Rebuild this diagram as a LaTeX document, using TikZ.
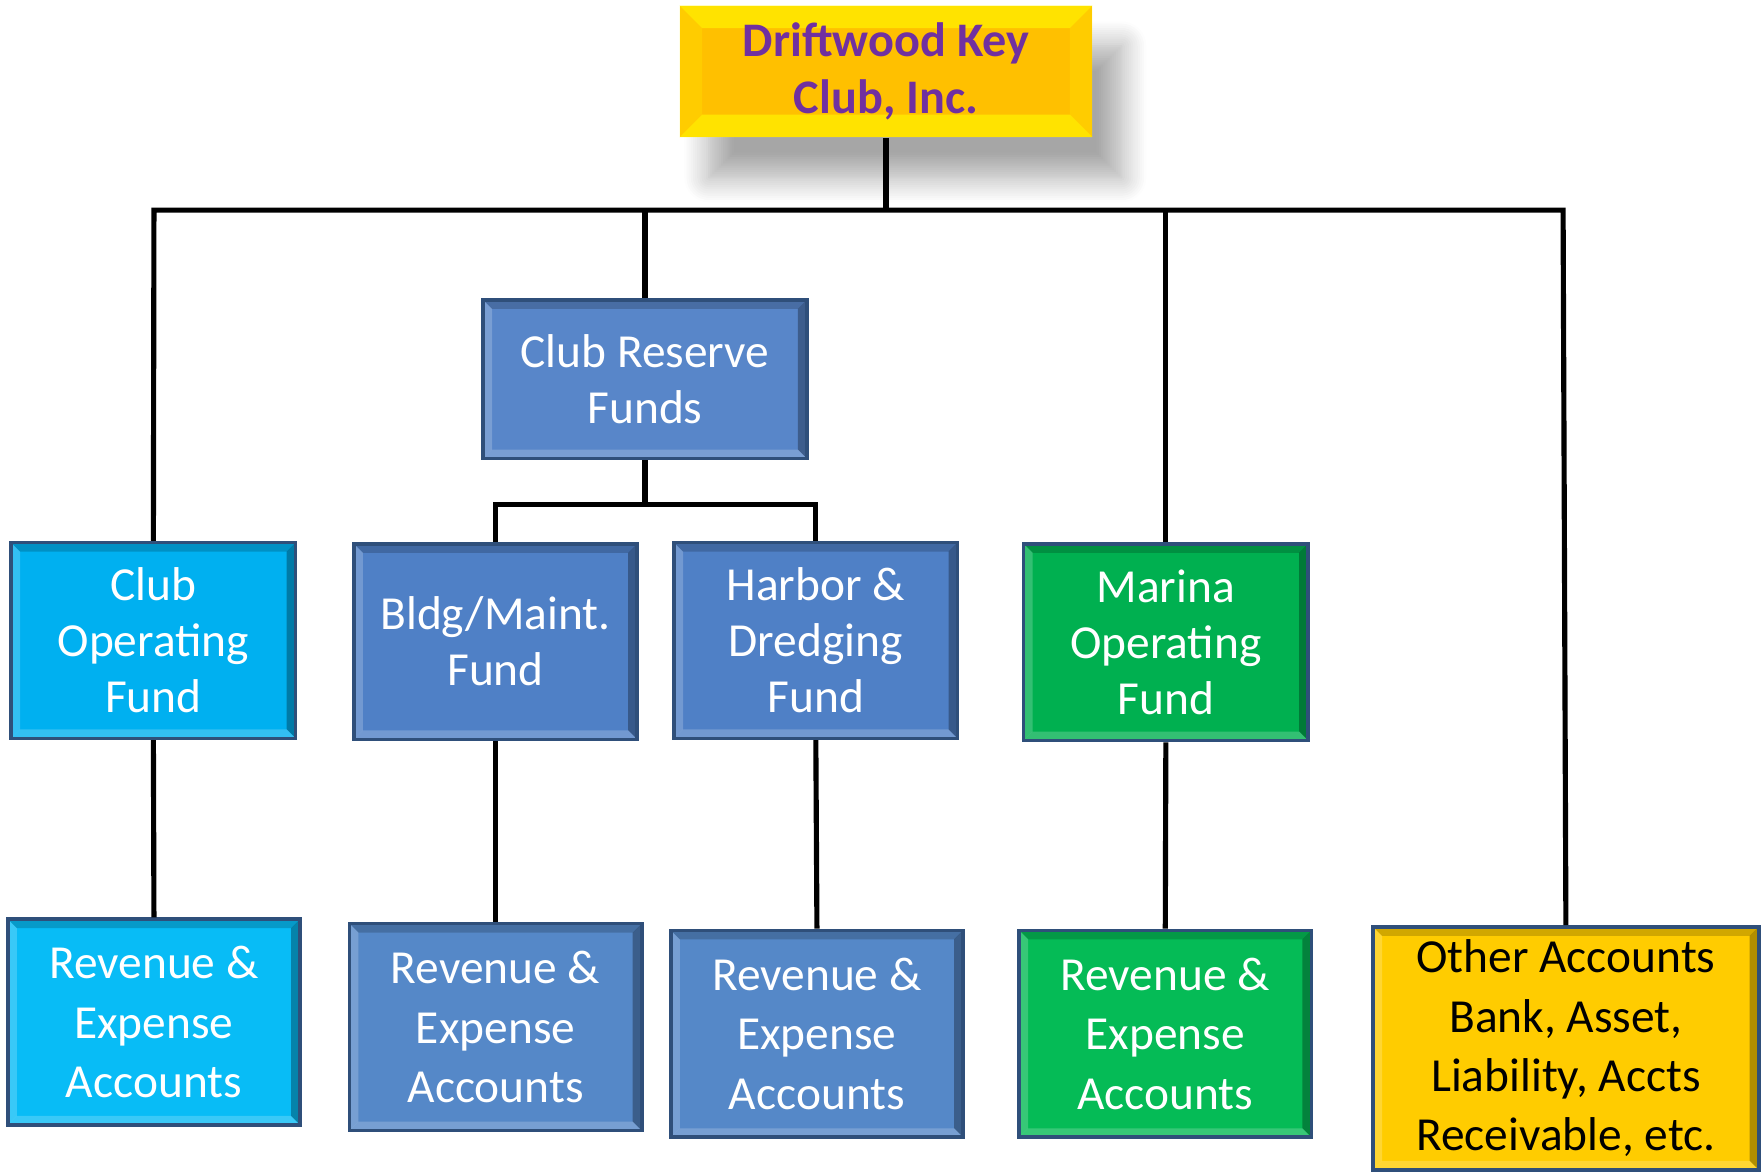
\documentclass[tikz,border=0pt]{standalone}
\usepackage{fontspec}
\setmainfont{Carlito}
\usetikzlibrary{shadows.blur}

\definecolor{edgeblue}{HTML}{2F4F7A}
\definecolor{fundcyan}{HTML}{00B0F0}
\definecolor{revcyan}{HTML}{08BCF6}
\definecolor{fundblue}{HTML}{4F80C6}
\definecolor{revblue}{HTML}{5588C8}
\definecolor{fundgreen}{HTML}{00B050}
\definecolor{revgreen}{HTML}{05BB56}
\definecolor{clubgold}{HTML}{FFC000}
\definecolor{othergold}{HTML}{FFCC00}
\definecolor{clubpurple}{HTML}{7030A0}

\newcommand\fundfont{\fontsize{12}{14.2}\selectfont}
\newcommand\revfont{\fontsize{12}{15}\selectfont}
\newcommand\titlefont{\fontsize{12.2}{14.5}\selectfont\bfseries}

% four bevel strips inside a box
\newcommand\boxbevel[5]{%
  \fill[#1] (path picture bounding box.north west) -- (path picture bounding box.north east)
    -- ([shift={(-#5,-#5)}]path picture bounding box.north east) -- ([shift={(#5,-#5)}]path picture bounding box.north west) -- cycle;
  \fill[#2] (path picture bounding box.north east) -- (path picture bounding box.south east)
    -- ([shift={(-#5,#5)}]path picture bounding box.south east) -- ([shift={(-#5,-#5)}]path picture bounding box.north east) -- cycle;
  \fill[#3] (path picture bounding box.south east) -- (path picture bounding box.south west)
    -- ([shift={(#5,#5)}]path picture bounding box.south west) -- ([shift={(-#5,#5)}]path picture bounding box.south east) -- cycle;
  \fill[#4] (path picture bounding box.south west) -- (path picture bounding box.north west)
    -- ([shift={(#5,-#5)}]path picture bounding box.north west) -- ([shift={(#5,#5)}]path picture bounding box.south west) -- cycle;}

\tikzset{
  fundbox/.style={draw=edgeblue, line width=0.9pt, inner sep=0pt, align=center, text=white, font=\fundfont,
    path picture={\boxbevel{black,opacity=0.18}{black,opacity=0.3}{white,opacity=0.2}{white,opacity=0.2}{0.08cm}}},
  revbox/.style={fundbox, font=\revfont},
  trunk/.style={line width=1.3pt, black},
}

\begin{document}
\begin{tikzpicture}[x=0.01cm, y=-0.01cm]
  \useasboundingbox (0,0) rectangle (1568,1043);

  % top of the chart
  \node[fill=clubgold, inner sep=0pt, align=center, text=clubpurple, font=\titlefont,
    minimum width=3.67cm, minimum height=1.17cm,
    blur shadow={shadow xshift=0.26cm, shadow yshift=-0.36cm, shadow blur radius=0.22cm, shadow blur steps=12, shadow opacity=35},
    path picture={\boxbevel{yellow,opacity=0.7}{yellow,opacity=0.25}{yellow,opacity=0.7}{yellow,opacity=0.25}{0.2cm}}]
    (club) at (788.5,63.5) {Driftwood Key\\Club, Inc.};

  \node[fundbox, fill=fundblue!95!white, minimum width=2.88cm, minimum height=1.41cm] (reserve) at (574,337.5) {Club Reserve\\Funds};

  % fund row
  \node[fundbox, fill=fundcyan, minimum width=2.53cm, minimum height=1.74cm] (clubop) at (136.5,570) {Club\\Operating\\Fund};
  \node[fundbox, fill=fundblue, minimum width=2.52cm, minimum height=1.74cm] (bldg) at (441,571) {Bldg/Maint.\\Fund};
  \node[fundbox, fill=fundblue, minimum width=2.52cm, minimum height=1.74cm] (harbor) at (726,570) {Harbor \&\\Dredging\\Fund};
  \node[fundbox, fill=fundgreen, minimum width=2.53cm, minimum height=1.75cm] (marina) at (1037.5,571.5) {Marina\\Operating\\Fund};

  % account row
  \node[revbox, fill=revcyan, minimum width=2.6cm, minimum height=1.83cm] (revclub) at (137,909.5) {Revenue \&\\Expense\\Accounts};
  \node[revbox, fill=revblue, minimum width=2.6cm, minimum height=1.84cm] (revbldg) at (441,914) {Revenue \&\\Expense\\Accounts};
  \node[revbox, fill=revblue, minimum width=2.6cm, minimum height=1.84cm] (revharbor) at (727,920) {Revenue \&\\Expense\\Accounts};
  \node[revbox, fill=revgreen, minimum width=2.6cm, minimum height=1.84cm] (revmarina) at (1037,920) {Revenue \&\\Expense\\Accounts};
  \node[revbox, fill=othergold, text=black, minimum width=3.43cm, minimum height=2.16cm] (other) at (1393.5,933)
    {Other Accounts\\Bank, Asset,\\Liability, Accts\\Receivable, etc.};

  % bus lines
  \coordinate (busL) at (137,187);
  \coordinate (busR) at (1391,187);
  \coordinate (resbus) at (574,449);

  \draw[trunk] (club.south) -- (club.south |- busL);
  \draw[trunk] (clubop.north) -- (busL) -- (busR) -- (other.north);
  \draw[trunk] (reserve.north) -- (reserve.north |- busL);
  \draw[trunk] (marina.north) -- (marina.north |- busL);
  \draw[trunk] (reserve.south) -- (resbus);
  \draw[trunk] (bldg.north) |- (resbus) -| (harbor.north);

  \draw[trunk] (clubop.south) -- (revclub.north);
  \draw[trunk] (bldg.south) -- (revbldg.north);
  \draw[trunk] (harbor.south) -- (revharbor.north);
  \draw[trunk] (marina.south) -- (revmarina.north);
\end{tikzpicture}
\end{document}
